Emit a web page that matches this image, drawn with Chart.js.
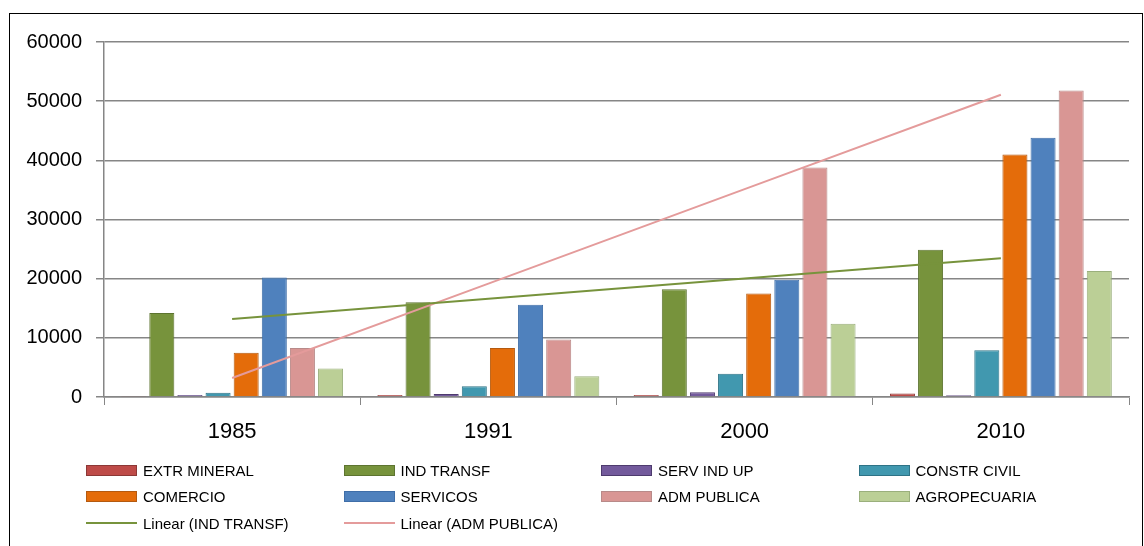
<!DOCTYPE html>
<html>
<head>
<meta charset="utf-8">
<script src="https://cdn.jsdelivr.net/npm/chart.js@4.4.1/dist/chart.umd.min.js"></script>
<style>
body { margin: 0; background: #fff; }
#wrap { position: relative; width: 1144px; height: 546px; overflow: hidden; }
#frame { position: absolute; left: 9px; top: 13px; width: 1134px; height: 560px; border: 1px solid #000; box-sizing: border-box; }
canvas { position: absolute; left: 0; top: 0; }
#legend { position: absolute; left: 86px; top: 457px; display: grid; grid-template-columns: repeat(4, 257.5px); grid-auto-rows: 26.5px; font-family: 'Liberation Sans', Arial, sans-serif; font-size: 15px; color: #000; }
#legend .item { display: flex; align-items: center; }
#legend .sw { width: 49px; height: 9px; margin-right: 6px; border: 1px solid; }
#legend .ln { width: 51px; height: 2px; margin-right: 6px; }
</style>
</head>
<body>
<div id="wrap">
  <div id="frame"></div>
  <canvas id="chart" width="1144" height="546"></canvas>
  <div id="legend"></div>
</div>
<script>
const years = ['1985', '1991', '2000', '2010'];

const extrMineral = [150, 350, 350, 600];
const indTransf = [14200, 16000, 18200, 24900];
const servIndUp = [350, 500, 800, 300];
const constrCivil = [700, 1800, 3950, 7900];
const comercio = [7500, 8300, 17500, 41000];
const servicos = [20200, 15600, 19800, 43800];
const admPublica = [8300, 9700, 38800, 51800];
const agropecuaria = [4800, 3500, 12400, 21300];

const yTicks = [0, 10000, 20000, 30000, 40000, 50000, 60000];

// Excel style linear trendline (least squares over category index)
function linearTrend(vals) {
    const n = vals.length;
    let sx = 0, sy = 0, sxy = 0, sxx = 0;
    vals.forEach((v, i) => { sx += i; sy += v; sxy += i * v; sxx += i * i; });
    const slope = (n * sxy - sx * sy) / (n * sxx - sx * sx);
    const b = (sy - slope * sx) / n;
    return vals.map((v, i) => b + slope * i);
}

function bar(label, data, fill, border) {
    return { type: 'bar', label: label, data: data, backgroundColor: fill, borderColor: border, borderWidth: 1, order: 1 };
}

const datasets = [
    bar('EXTR MINERAL', extrMineral, '#be4b48', '#8c3836'),
    bar('IND TRANSF', indTransf, '#77933c', '#5d7430'),
    bar('SERV IND UP', servIndUp, '#735a9c', '#4e3b6e'),
    bar('CONSTR CIVIL', constrCivil, '#4198af', '#2e7386'),
    bar('COMERCIO', comercio, '#e46c0a', '#b45a10'),
    bar('SERVICOS', servicos, '#4f81bd', '#3f6ea8'),
    bar('ADM PUBLICA', admPublica, '#d99694', '#b88a89'),
    bar('AGROPECUARIA', agropecuaria, '#bbcf96', '#9aaf7c'),
    { type: 'line', label: 'Linear (IND TRANSF)', data: linearTrend(indTransf), borderColor: '#77933c', borderWidth: 2, pointRadius: 0, order: 0 },
    { type: 'line', label: 'Linear (ADM PUBLICA)', data: linearTrend(admPublica), borderColor: '#e49b9b', borderWidth: 2, pointRadius: 0, order: 0 }
];

Chart.defaults.font.family = "'Liberation Sans', Arial, sans-serif";
Chart.defaults.color = '#000';

new Chart(document.getElementById('chart'), {
    type: 'bar',
    data: { labels: years, datasets: datasets },
    options: {
        responsive: false,
        animation: false,
        layout: { padding: { left: 0, top: 42, right: 15, bottom: 0 } },
        datasets: { bar: { categoryPercentage: 0.878, barPercentage: 0.89 } },
        plugins: { legend: { display: false }, tooltip: { enabled: false } },
        scales: {
            x: {
                afterFit: s => { s.height = 149; },
                grid: { drawOnChartArea: false, color: '#868686', tickLength: 8, offset: true },
                border: { color: '#868686', width: 1.5 },
                ticks: { font: { size: 22 }, padding: 14 }
            },
            y: {
                min: 0,
                max: 60000,
                afterFit: s => { s.width = 104; },
                afterBuildTicks: s => { s.ticks = yTicks.map(v => ({ value: v })); },
                grid: { color: '#868686', tickLength: 8, lineWidth: 1.5 },
                border: { color: '#868686', width: 1.5 },
                ticks: { font: { size: 20 }, padding: 14, callback: v => String(v) }
            }
        }
    }
});

const legend = document.getElementById('legend');
datasets.forEach(ds => {
    const item = document.createElement('div');
    item.className = 'item';
    const sw = document.createElement('span');
    if (ds.type === 'line') {
        sw.className = 'ln';
        sw.style.background = ds.borderColor;
    } else {
        sw.className = 'sw';
        sw.style.background = ds.backgroundColor;
        sw.style.borderColor = ds.borderColor;
    }
    const txt = document.createElement('span');
    txt.textContent = ds.label;
    item.appendChild(sw);
    item.appendChild(txt);
    legend.appendChild(item);
});
</script>
</body>
</html>
